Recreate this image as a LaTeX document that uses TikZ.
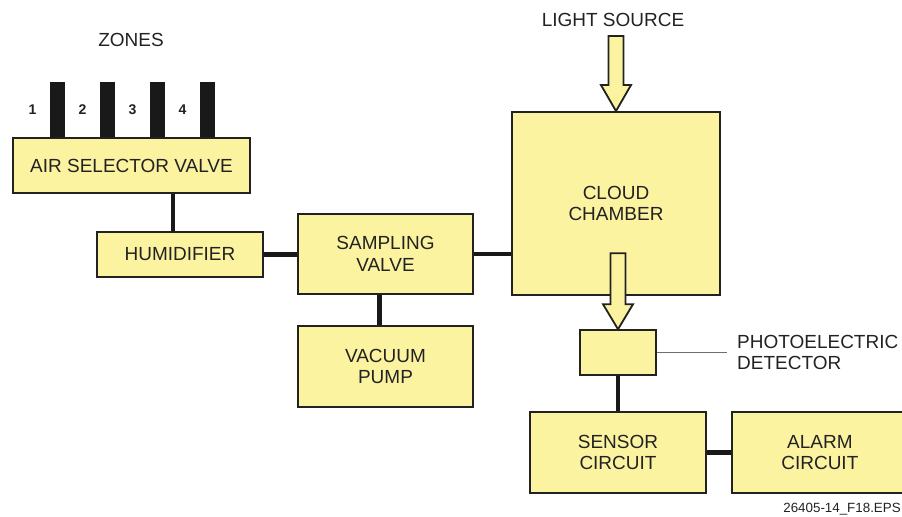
\documentclass[tikz,border=0pt]{standalone}
\usepackage{fontspec}
\setmainfont{Liberation Sans}
\usetikzlibrary{positioning}
\definecolor{boxyellow}{RGB}{252, 243, 160}
\definecolor{inkgray}{RGB}{34, 34, 34}
\definecolor{leadgray}{RGB}{110, 110, 110}

\begin{document}
\begin{tikzpicture}[
    x=0.025cm, y=-0.025cm,
    unitbox/.style={rectangle, draw=inkgray, fill=boxyellow, line width=1.3pt, align=center, inner sep=0pt, text=inkgray, font=\fontsize{13.5}{15.3}\selectfont},
    plaintext/.style={inner sep=0pt, text=inkgray, align=left, font=\fontsize{13.5}{15.3}\selectfont},
    zonebar/.style={rectangle, fill=black!90, inner sep=0pt, minimum width=0.375cm, minimum height=1.4cm},
    zonenum/.style={inner sep=0pt, text=inkgray, font=\fontsize{10}{12}\selectfont\bfseries},
    link/.style={draw=black!90, line width=3.2pt},
    lightarrow/.style={draw=inkgray, fill=boxyellow, line width=1.3pt, line join=miter}
]
    \useasboundingbox (0,0) rectangle (902,517);

    % Zone inlets
    \node[plaintext] (zones) at (131,40) {ZONES};
    \foreach \n in {1,...,4} {
        \node[zonebar] (bar\n) at (7.5+50*\n,110) {};
        \node[zonenum, xshift=-0.625cm] (num\n) at (bar\n) {\n};
    }

    % Sampling path
    \node[unitbox, minimum width=5.925cm, minimum height=1.375cm] (asv) at (131.5,165.5) {AIR SELECTOR VALVE};
    \node[unitbox, minimum width=4.15cm, minimum height=1.125cm] (hum) at (180,254.5) {HUMIDIFIER};
    \node[unitbox, minimum width=4.375cm, minimum height=2cm] (sv) at (385.5,254) {SAMPLING\\VALVE};
    \node[unitbox, minimum width=4.375cm, minimum height=2.025cm, below=0.75cm of sv] (vp) {VACUUM\\PUMP};
    \node[unitbox, minimum width=5.2cm, minimum height=4.575cm] (cc) at (616,203.5) {CLOUD\\CHAMBER};
    \node[plaintext] (light) at (613,20) {LIGHT SOURCE};

    % Detection side
    \node[unitbox, minimum width=4.4cm, minimum height=2.025cm] (sc) at (618,452.5) {SENSOR\\CIRCUIT};
    \node[unitbox, minimum width=4.4cm, minimum height=2.025cm, right=0.6cm of sc] (ac) {ALARM\\CIRCUIT};
    \node[unitbox, minimum width=1.9cm, minimum height=1.125cm, above=0.875cm of sc] (det) {};
    \node[plaintext, right=2cm of det] (detlbl) {PHOTOELECTRIC\\DETECTOR};

    \node[inner sep=0pt, anchor=east, text=inkgray, font=\fontsize{9.5}{11}\selectfont] (figno) at (901,509) {26405-14\_F18.EPS};

    % Piping
    \coordinate (humtop) at ([xshift=-0.175cm]hum.north);
    \coordinate (svbot) at ([xshift=-0.15cm]sv.south);
    \draw[link] (humtop) -- (humtop |- asv.south);
    \draw[link] (hum.east) -- (hum.east -| sv.west);
    \draw[link] (sv.east) -- (sv.east -| cc.west);
    \draw[link] (svbot) -- (svbot |- vp.north);
    \draw[link] (det.south) -- (sc.north);
    \draw[link] (sc.east) -- (ac.west);
    \draw[leadgray, line width=0.6pt] (det.east) -- ([xshift=-0.25cm]detlbl.west);

    % Light beams
    \draw[lightarrow] (cc.north) -- ++(-15,-26) -- ++(7.5,0) -- ++(0,-49) -- ++(15,0) -- ++(0,49) -- ++(7.5,0) -- cycle;
    \draw[lightarrow] (det.north) -- ++(-15,-25) -- ++(7.5,0) -- ++(0,-51) -- ++(15,0) -- ++(0,51) -- ++(7.5,0) -- cycle;
\end{tikzpicture}
\end{document}
